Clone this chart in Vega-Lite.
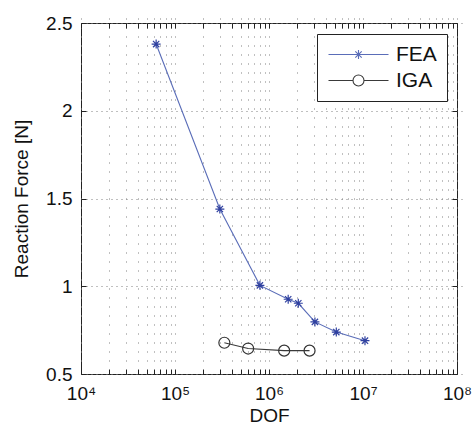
{
  "$schema": "https://vega.github.io/schema/vega-lite/v6.json",
  "width": 376,
  "height": 351,
  "autosize": {"type": "none"},
  "padding": {"left": 81, "top": 23, "right": 17, "bottom": 58},
  "background": "white",
  "config": {
    "font": "Liberation Sans",
    "view": {"stroke": "#222", "strokeWidth": 1},
    "axis": {
      "labelFont": "Liberation Sans",
      "titleFont": "Liberation Sans",
      "labelFontSize": 19,
      "titleFontSize": 19,
      "titleFontWeight": "normal",
      "labelColor": "#111",
      "titleColor": "#111",
      "domain": false,
      "tickColor": "#222",
      "tickSize": 5,
      "offset": -5,
      "labelOverlap": false,
      "labelFlush": false
    }
  },
  "data": {
    "values": [
      {"method": "FEA", "dof": 63000, "force": 2.38},
      {"method": "FEA", "dof": 300000, "force": 1.44},
      {"method": "FEA", "dof": 800000, "force": 1.005},
      {"method": "FEA", "dof": 1600000, "force": 0.926},
      {"method": "FEA", "dof": 2050000, "force": 0.903},
      {"method": "FEA", "dof": 3080000, "force": 0.797},
      {"method": "FEA", "dof": 5200000, "force": 0.739},
      {"method": "FEA", "dof": 10500000, "force": 0.69},
      {"method": "IGA", "dof": 335000, "force": 0.678},
      {"method": "IGA", "dof": 600000, "force": 0.645},
      {"method": "IGA", "dof": 1450000, "force": 0.633},
      {"method": "IGA", "dof": 2700000, "force": 0.633}
    ]
  },
  "layer": [
    {
      "mark": {"type": "line", "strokeWidth": 1.1},
      "encoding": {
        "x": {
          "field": "dof", "type": "quantitative",
          "scale": {"type": "log", "domain": [10000, 100000000], "nice": false},
          "axis": {
            "title": "DOF",
            "titlePadding": 3,
            "values": [10000,20000,30000,40000,50000,60000,70000,80000,90000,100000,200000,300000,400000,500000,600000,700000,800000,900000,1000000,2000000,3000000,4000000,5000000,6000000,7000000,8000000,9000000,10000000,20000000,30000000,40000000,50000000,60000000,70000000,80000000,90000000,100000000],
            "labelExpr": "datum.value==10000?'10⁴':datum.value==100000?'10⁵':datum.value==1000000?'10⁶':datum.value==10000000?'10⁷':datum.value==100000000?'10⁸':''",
            "labelPadding": 10,
            "grid": true,
            "gridDash": [1, 8],
            "gridColor": "#808080",
            "gridWidth": 1
          }
        },
        "y": {
          "field": "force", "type": "quantitative",
          "scale": {"domain": [0.5, 2.5], "nice": false, "zero": false},
          "axis": {
            "title": "Reaction Force [N]",
            "titlePadding": 14,
            "values": [0.5, 1, 1.5, 2, 2.5],
            "format": "~g",
            "labelPadding": 9,
            "grid": true,
            "gridDash": [1, 4],
            "gridColor": "#808080",
            "gridWidth": 1
          }
        },
        "color": {
          "field": "method", "type": "nominal",
          "scale": {"domain": ["FEA", "IGA"], "range": ["#5a6db8", "#3a3a3a"]},
          "legend": {
            "title": null, "orient": "none", "legendX": 236, "legendY": 11,
            "strokeColor": "#222", "fillColor": "white", "padding": 10,
            "symbolSize": 100, "symbolStrokeWidth": 1.1,
            "symbolOffset": 21, "labelOffset": 27, "rowPadding": 4,
            "labelFontSize": 21, "labelFont": "Liberation Sans", "labelColor": "#111",
            "encode": {
              "symbols": {
                "update": {
                  "shape": {"signal": "datum.value == 'FEA' ? 'M-6,0H6M-0.9,0H0.9M0,-0.9V0.9M-0.64,-0.64L0.64,0.64M-0.64,0.64L0.64,-0.64' : 'M-6,0H-1.1M1.1,0H6M1.1,0A1.1,1.1 0 1,1 -1.1,0A1.1,1.1 0 1,1 1.1,0'"},
                  "fill": {"value": "transparent"}
                }
              }
            }
          }
        }
      }
    },
    {
      "transform": [{"filter": "datum.method == 'FEA'"}],
      "mark": {
        "type": "point", "filled": false, "strokeWidth": 1.2, "size": 81, "color": "#2f40a0", "opacity": 1,
        "shape": "M-1,0H1M0,-1V1M-0.7,-0.7L0.7,0.7M-0.7,0.7L0.7,-0.7"
      },
      "encoding": {
        "x": {"field": "dof", "type": "quantitative", "axis": null},
        "y": {"field": "force", "type": "quantitative", "axis": null}
      }
    },
    {
      "transform": [{"filter": "datum.method == 'IGA'"}],
      "mark": {"type": "point", "filled": false, "strokeWidth": 1.2, "size": 121, "color": "#333333", "opacity": 1, "shape": "circle"},
      "encoding": {
        "x": {"field": "dof", "type": "quantitative", "axis": null},
        "y": {"field": "force", "type": "quantitative", "axis": null}
      }
    },
    {
      "mark": {"type": "point", "opacity": 0},
      "encoding": {
        "x": {
          "field": "dof", "type": "quantitative",
          "axis": {"orient": "top", "title": null, "labels": false, "grid": false,
            "values": [10000,20000,30000,40000,50000,60000,70000,80000,90000,100000,200000,300000,400000,500000,600000,700000,800000,900000,1000000,2000000,3000000,4000000,5000000,6000000,7000000,8000000,9000000,10000000,20000000,30000000,40000000,50000000,60000000,70000000,80000000,90000000,100000000]}
        },
        "y": {
          "field": "force", "type": "quantitative",
          "axis": {"orient": "right", "title": null, "labels": false, "grid": false, "values": [0.5, 1, 1.5, 2, 2.5]}
        }
      }
    }
  ],
  "resolve": {"axis": {"x": "independent", "y": "independent"}}
}
